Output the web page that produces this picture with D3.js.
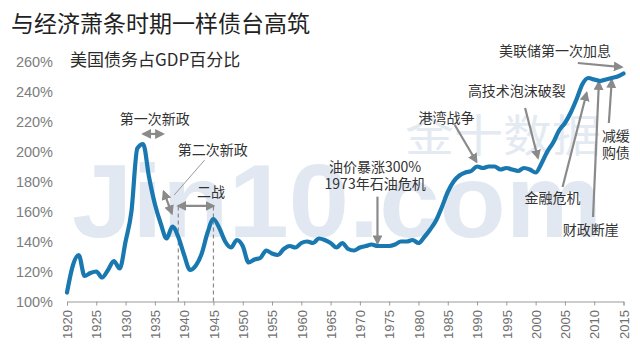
<!DOCTYPE html>
<html>
<head>
<meta charset="utf-8">
<script src="https://cdn.jsdelivr.net/npm/d3@7"></script>
<style>
  body { margin: 0; background: #fff; }
  #chart { width: 640px; height: 353px; }
  .cn { font-family: "Noto Sans CJK SC", "Noto Sans", sans-serif; }
</style>
</head>
<body>
<div id="chart"></div>
<script>
// US debt as % of GDP
const years = d3.range(1920, 2016);
const debtPct = [
  106, 124, 131, 117, 119, 120, 116, 121, 127, 122,
  140, 160, 202, 205, 183, 165, 152, 142, 150, 143,
  131, 121, 124, 132, 146, 155, 149, 140, 136, 141,
  137, 126, 128, 129, 134, 132, 131, 135, 137, 136,
  139, 140, 139, 142, 141, 139, 136, 139, 135, 134,
  136, 137, 138, 137, 137, 137, 138, 140, 140, 141,
  139, 143, 148, 154, 163, 173, 180, 184, 186, 187,
  190, 189, 190, 190, 188, 189, 188, 187, 189, 188,
  186, 192, 200, 206, 214, 219, 226, 235, 245, 249,
  248, 247, 248, 249, 250, 252
];
const yTicks = [100, 120, 140, 160, 180, 200, 220, 240, 260];
const xTicks = d3.range(1920, 2016, 5);

// annotation labels: [year, value, lines]
const notes = [
  [1935.0, 221.7, ["第一次新政"]],
  [1944.9, 201, ["第二次新政"]],
  [1944.6, 173, ["二战"]],
  [1972.6, 189.9, ["油价暴涨300%", "1973年石油危机"]],
  [1984.8, 222.3, ["港湾战争"]],
  [1996.8, 240.3, ["高技术泡沫破裂"]],
  [2003.3, 267, ["美联储第一次加息"]],
  [2013.7, 210.3, ["减缓", "购债"]],
  [2002.9, 169, ["金融危机"]],
  [2009.4, 147.7, ["财政断崖"]]
];
// arrows: [x1, y1, x2, y2, double-headed]
const arrows = [
  [1933.0, 211.7, 1936.4, 211.7, true],
  [1936.5, 173.2, 1937.9, 158.8, true],
  [1939, 163.7, 1945, 163.7, true],
  [1973, 169.9, 1973, 138.8, false],
  [1986.2, 217.7, 1989.9, 193.2, false],
  [1998.2, 229, 2000.4, 195.7, false],
  [2007.2, 259, 2014.7, 256.3, false],
  [2012.5, 219, 2013, 247.7, false],
  [2004.6, 176.3, 2008.7, 239, false],
  [2009.8, 156.3, 2010.8, 246.3, false]
];
// thin leader line for 第二次新政
const leaders = [[1943.5, 194.3, 1938.3, 171]];
// dashed markers for the war years
const warYears = [1939, 1945];

class DebtChart {
    constructor(containerId) {
        this.containerId = containerId;
        this.width = 640;
        this.height = 353;
        this.initChart();
        this.drawAxes();
        this.drawNotes();
        this.drawLine();
    }

    initChart() {
        this.svg = d3.select(`#${this.containerId}`)
            .append("svg")
            .attr("width", this.width)
            .attr("height", this.height);

        this.xScale = d3.scaleLinear().domain([1920, 2015]).range([67, 623.5]);
        this.yScale = d3.scaleLinear().domain([100, 260]).range([301.5, 61.5]);

        const defs = this.svg.append("defs");
        defs.append("marker")
            .attr("id", "head")
            .attr("viewBox", "0 0 10 10")
            .attr("refX", 8).attr("refY", 5)
            .attr("markerWidth", 4.5).attr("markerHeight", 4.5)
            .attr("orient", "auto-start-reverse")
            .append("path")
            .attr("d", "M0,0 L10,5 L0,10 z")
            .attr("fill", "#8a8a8a");

        // watermark
        this.svg.append("text")
            .attr("x", 72).attr("y", 237)
            .attr("textLength", 530).attr("lengthAdjust", "spacingAndGlyphs")
            .style("font-family", "Liberation Sans, Arial, sans-serif")
            .style("font-weight", "bold")
            .style("font-size", "104px")
            .attr("fill", "#e1e8f2")
            .text("Jin10.com");
        this.svg.append("text")
            .attr("class", "cn")
            .attr("x", 405).attr("y", 152)
            .attr("textLength", 196).attr("lengthAdjust", "spacingAndGlyphs")
            .style("font-size", "44px")
            .attr("fill", "#e4eaf2")
            .text("金十数据");

        // titles
        this.svg.append("text")
            .attr("class", "cn")
            .attr("x", 11).attr("y", 32)
            .style("font-size", "23px")
            .attr("fill", "#222")
            .text("与经济萧条时期一样债台高筑");
        this.svg.append("text")
            .attr("class", "cn")
            .attr("x", 70).attr("y", 66)
            .style("font-size", "17px")
            .attr("fill", "#2b2b2b")
            .text("美国债务占GDP百分比");
    }

    drawAxes() {
        // y labels only, no axis line
        const yAxis = this.svg.append("g")
            .attr("transform", "translate(67,0)")
            .call(d3.axisLeft(this.yScale).tickValues(yTicks).tickSize(0).tickPadding(14).tickFormat(d => d + "%"));
        yAxis.select(".domain").remove();
        yAxis.selectAll("text")
            .style("font-family", "Liberation Sans, Arial, sans-serif")
            .style("font-size", "14.5px")
            .attr("fill", "#7d7d7d");

        const xAxis = this.svg.append("g")
            .attr("transform", "translate(0,301.5)")
            .call(d3.axisBottom(this.xScale).tickValues(xTicks).tickSize(4).tickFormat(d3.format("d")));
        xAxis.select(".domain").attr("stroke", "#9a9a9a");
        xAxis.selectAll(".tick line").attr("stroke", "#9a9a9a");
        xAxis.selectAll("text")
            .attr("transform", "rotate(-90)")
            .attr("x", -8.5)
            .attr("y", 0)
            .attr("dy", "0.36em")
            .style("text-anchor", "end")
            .style("font-family", "Liberation Sans, Arial, sans-serif")
            .style("font-size", "13px")
            .attr("fill", "#6f6f6f");
    }

    drawNotes() {
        const x = this.xScale, y = this.yScale;

        this.svg.selectAll(".war")
            .data(warYears)
            .enter().append("line")
            .attr("class", "war")
            .attr("x1", d => x(d)).attr("x2", d => x(d))
            .attr("y1", y(100)).attr("y2", y(163.7))
            .attr("stroke", "#8a8a8a")
            .attr("stroke-width", 1.2)
            .attr("stroke-dasharray", "4,3");

        this.svg.selectAll(".leader")
            .data(leaders)
            .enter().append("line")
            .attr("x1", d => x(d[0])).attr("y1", d => y(d[1]))
            .attr("x2", d => x(d[2])).attr("y2", d => y(d[3]))
            .attr("stroke", "#9a9a9a")
            .attr("stroke-width", 1);

        this.svg.selectAll(".arrow")
            .data(arrows)
            .enter().append("line")
            .attr("class", "arrow")
            .attr("x1", d => x(d[0])).attr("y1", d => y(d[1]))
            .attr("x2", d => x(d[2])).attr("y2", d => y(d[3]))
            .attr("stroke", "#8a8a8a")
            .attr("stroke-width", 2.2)
            .attr("marker-end", "url(#head)")
            .attr("marker-start", d => d[4] ? "url(#head)" : null);

        const labels = this.svg.selectAll(".note")
            .data(notes)
            .enter().append("text")
            .attr("class", "note cn")
            .attr("text-anchor", "middle")
            .style("font-size", "14px")
            .attr("fill", "#333");
        labels.selectAll("tspan")
            .data(d => d[2].map((t, i) => ({ t, i, d })))
            .enter().append("tspan")
            .attr("x", o => x(o.d[0]))
            .attr("y", o => y(o.d[1]) + o.i * 17)
            .attr("dy", "0.35em")
            .text(o => o.t);
    }

    drawLine() {
        const line = d3.line()
            .x((d, i) => this.xScale(years[i]))
            .y(d => this.yScale(d))
            .curve(d3.curveMonotoneX);

        this.svg.append("path")
            .datum(debtPct)
            .attr("d", line)
            .attr("fill", "none")
            .attr("stroke", "#1a78b0")
            .attr("stroke-width", 4.2)
            .attr("stroke-linejoin", "round")
            .attr("stroke-linecap", "round");
    }
}

new DebtChart("chart");
</script>
</body>
</html>
